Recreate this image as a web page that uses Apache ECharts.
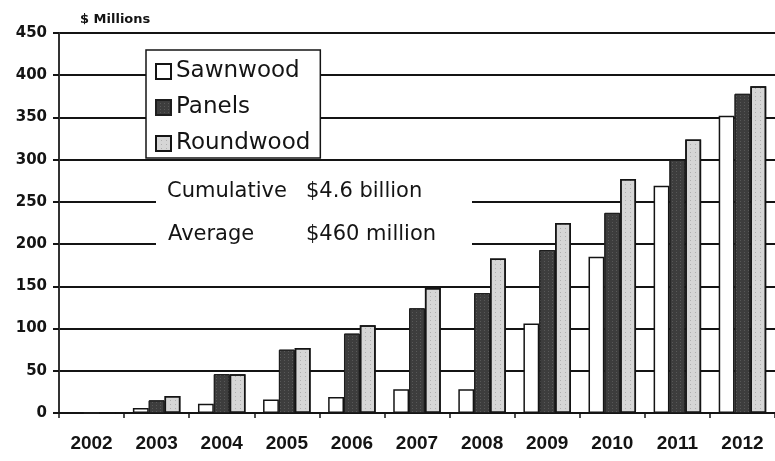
<!DOCTYPE html>
<html>
<head>
<meta charset="utf-8">
<script src="https://cdn.jsdelivr.net/npm/echarts@6/dist/echarts.min.js"></script>
<style>
html,body{margin:0;padding:0;background:#fff;}
#chart{width:775px;height:461px;}
</style>
</head>
<body>
<div id="chart"></div>
<script>
const years = ['2002','2003','2004','2005','2006','2007','2008','2009','2010','2011','2012'];
const sawnwood  = [0, 6, 11, 16, 19, 28, 28, 106, 185, 269, 352];
const panels    = [0, 15, 46, 75, 94, 124, 142, 193, 237, 300, 378];
const roundwood = [0, 20, 46, 77, 104, 148, 183, 225, 277, 324, 387];
const yTicks = [0, 50, 100, 150, 200, 250, 300, 350, 400, 450];
const unitLabel = '$ Millions';
const noteRows = [['Cumulative', '$4.6 billion'], ['Average', '$460 million']];

const chart = echarts.init(document.getElementById('chart'), null, {renderer:'canvas'});
const ink = '#141414';

chart.setOption({
  animation: false,
  backgroundColor: '#ffffff',
  grid: {left: 59, top: 33, width: 726, height: 380, containLabel: false},
  legend: {
    orient: 'vertical',
    left: 146, top: 50,
    padding: [10, 10, 3, 9],
    itemGap: 13,
    itemWidth: 15, itemHeight: 15,
    icon: 'rect',
    backgroundColor: '#ffffff',
    borderColor: ink, borderWidth: 1.5,
    textStyle: {fontFamily: 'DejaVu Sans', fontSize: 23, color: ink},
    data: ['Sawnwood', 'Panels', 'Roundwood']
  },
  xAxis: {
    type: 'category',
    data: years,
    axisLine: {show: true, lineStyle: {color: ink, width: 2}},
    axisTick: {show: true, length: 5, lineStyle: {color: ink, width: 1.5}},
    axisLabel: {fontFamily: 'Liberation Sans', fontWeight: 'bold', fontSize: 19, color: ink, margin: 21}
  },
  yAxis: {
    type: 'value',
    min: yTicks[0], max: yTicks[yTicks.length - 1], interval: 50,
    axisLine: {show: true, lineStyle: {color: '#333', width: 2}},
    axisTick: {show: true, length: 6, lineStyle: {color: ink, width: 2}},
    axisLabel: {fontFamily: 'DejaVu Sans', fontWeight: 'bold', fontSize: 15, color: ink, margin: 12},
    splitLine: {show: true, lineStyle: {color: ink, width: 2}}
  },
  series: [
    {
      name: 'Sawnwood', type: 'bar', data: sawnwood,
      barGap: '0%', barCategoryGap: '27%',
      itemStyle: {color: '#ffffff', borderColor: ink, borderWidth: 1.5}
    },
    {
      name: 'Panels', type: 'bar', data: panels,
      itemStyle: {color: '#3d3d3d', borderColor: '#1e1e1e', borderWidth: 1,
        decal: {symbol: 'rect', symbolSize: 1, color: 'rgba(255,255,255,0.14)', dashArrayX: [[1, 3]], dashArrayY: [1, 2], rotation: 0}}
    },
    {
      name: 'Roundwood', type: 'bar', data: roundwood,
      itemStyle: {color: '#d6d6d6', borderColor: ink, borderWidth: 1.5,
        decal: {symbol: 'rect', symbolSize: 1, color: 'rgba(0,0,0,0.18)', dashArrayX: [[1, 4]], dashArrayY: [1, 3], rotation: 0}}
    }
  ],
  graphic: [
    {type: 'text', x: 80, y: 20, z: 100,
      style: {text: unitLabel, fontFamily: 'DejaVu Sans', fontWeight: 'bold', fontSize: 13, fill: ink, verticalAlign: 'middle', align: 'left'}},
    {type: 'rect', z: 99, shape: {x: 156, y: 177, width: 316, height: 76}, style: {fill: '#ffffff'}},
    {type: 'text', x: 167, y: 192, z: 100,
      style: {text: noteRows[0][0], fontFamily: 'DejaVu Sans', fontSize: 21, fill: ink, verticalAlign: 'middle', align: 'left'}},
    {type: 'text', x: 306, y: 192, z: 100,
      style: {text: noteRows[0][1], fontFamily: 'DejaVu Sans', fontSize: 21, fill: ink, verticalAlign: 'middle', align: 'left'}},
    {type: 'text', x: 168, y: 235, z: 100,
      style: {text: noteRows[1][0], fontFamily: 'DejaVu Sans', fontSize: 21, fill: ink, verticalAlign: 'middle', align: 'left'}},
    {type: 'text', x: 306, y: 235, z: 100,
      style: {text: noteRows[1][1], fontFamily: 'DejaVu Sans', fontSize: 21, fill: ink, verticalAlign: 'middle', align: 'left'}}
  ]
});
</script>
</body>
</html>
